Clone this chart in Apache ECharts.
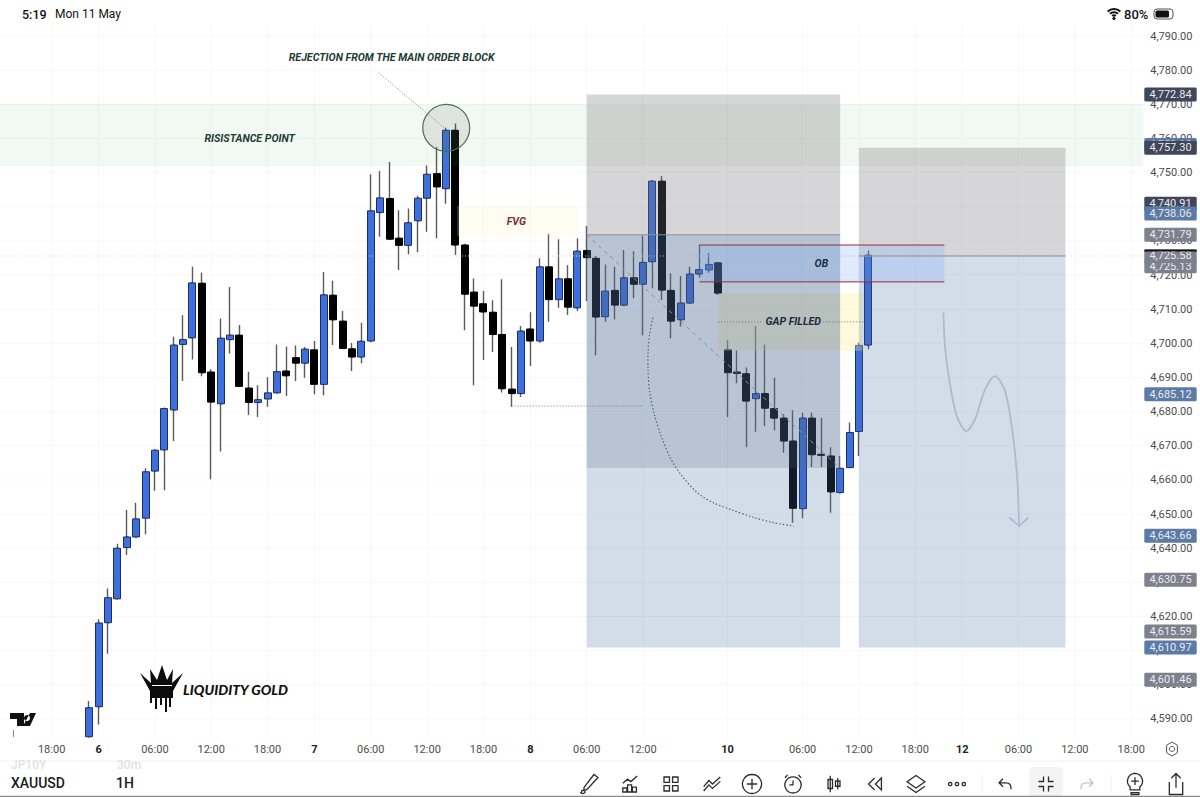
<!DOCTYPE html>
<html>
<head>
<meta charset="utf-8">
<title>XAUUSD 1H</title>
<script src="https://cdn.jsdelivr.net/npm/echarts@6/dist/echarts.min.js"></script>
<style>
  html, body { margin: 0; background: #fff; }
  #chart { width: 1200px; height: 797px; }
</style>
</head>
<body>
<div id="chart"></div>
<script>
// candles, bar 0 is the first visible candle (its foot is cut by the axis)
const opens = [4584.8, 4593.6, 4618.2, 4625.2, 4640.2, 4643.3, 4648.8, 4662.6, 4668.8, 4680.5, 4699.7, 4701.6, 4717.6, 4691.6, 4682.3, 4701.1, 4702.4, 4686.9, 4682.7, 4683.7, 4685.5, 4691.9, 4695.8, 4694.2, 4698.1, 4688, 4714.1, 4706.5, 4698.4, 4696, 4700.7, 4738.3, 4742.4, 4730.8, 4728.7, 4735.9, 4742.5, 4749.7, 4745.3, 4762.4, 4728.8, 4715, 4711.6, 4709.1, 4702.6, 4686.6, 4685.3, 4704.2, 4700.7, 4722.4, 4712.8, 4718.9, 4710.4, 4727.2, 4724.9, 4707.8, 4715.5, 4711.2, 4719.2, 4717.3, 4723.9, 4747.5, 4715.5, 4706.9, 4711.8, 4720.3, 4721.5, 4723.6, 4698.1, 4691.6, 4691.1, 4683.8, 4685.3, 4680.9, 4678.1, 4671.4, 4651.6, 4678.1, 4667.5, 4667, 4656.3, 4663.6, 4674.2, 4699.5];
const closes = [4593.3, 4618.1, 4625.5, 4640, 4643.3, 4648.6, 4662.4, 4668.7, 4680.9, 4699.5, 4701.1, 4717.7, 4691.4, 4682.8, 4701.5, 4702.4, 4687.4, 4682.7, 4683.5, 4685.5, 4691.7, 4690.5, 4694.2, 4698.3, 4688, 4714.2, 4706.9, 4698.5, 4696, 4700.6, 4738.8, 4742.6, 4730.5, 4728.7, 4735.3, 4742.5, 4749.5, 4745.8, 4762.4, 4728.8, 4714.4, 4710.9, 4709.2, 4702.6, 4686.7, 4685.3, 4703.6, 4700.7, 4722.4, 4712.8, 4718.9, 4710.6, 4727, 4725.1, 4707.7, 4715.3, 4711.2, 4719.2, 4717.3, 4723.7, 4747.5, 4715.6, 4706.5, 4711.8, 4720.3, 4721.6, 4723.1, 4714.7, 4691.4, 4691.2, 4683.1, 4685.3, 4681, 4678.1, 4671.4, 4651.7, 4678.1, 4667.4, 4667.2, 4656.5, 4663.4, 4673.9, 4699.4, 4725.8];
const lows = [4584.8, 4588.4, 4609.1, 4625.1, 4638, 4643.3, 4644.1, 4656.8, 4657, 4671.4, 4689, 4695.3, 4690.4, 4660.2, 4668.3, 4697, 4687.4, 4679, 4678.4, 4681.4, 4685.5, 4684.6, 4689, 4689.9, 4685.1, 4684.8, 4699.5, 4698.5, 4691.9, 4694.2, 4700.3, 4731.2, 4730.5, 4721.5, 4726.1, 4726.7, 4732.7, 4730.8, 4740.9, 4725.9, 4703.8, 4687.7, 4695.1, 4697.5, 4685.6, 4681.4, 4684.3, 4693.4, 4700.2, 4706.3, 4710.4, 4708.3, 4709.5, 4712.4, 4696.5, 4706.3, 4707, 4710.9, 4713.2, 4702.4, 4716.1, 4712.7, 4701.5, 4704.9, 4711.8, 4719.2, 4720.7, 4714.2, 4678.4, 4688.3, 4669.6, 4674.1, 4675.8, 4674.5, 4668, 4647.5, 4648.8, 4663.8, 4663.8, 4650.4, 4656, 4663.6, 4667, 4698.3];
const highs = [4595.3, 4619.2, 4628.2, 4641.3, 4651.3, 4653.3, 4663.4, 4669, 4681.2, 4701.9, 4708.2, 4722.4, 4720.7, 4692.4, 4707.3, 4716.5, 4705.4, 4691.7, 4687.7, 4690.1, 4699.7, 4699.1, 4699.4, 4698.9, 4700.7, 4720.9, 4718.3, 4709.5, 4700.1, 4706, 4749.5, 4750.5, 4753.1, 4739, 4739.5, 4743.2, 4752.1, 4757.5, 4763.1, 4764.4, 4729.2, 4719, 4715.3, 4712.6, 4718.8, 4698.9, 4705.1, 4709.1, 4724.9, 4732.1, 4730.5, 4722.9, 4730.8, 4734.4, 4725.6, 4723.1, 4722.4, 4727.3, 4727, 4731.6, 4747.8, 4749, 4720.5, 4719.7, 4722.4, 4728.8, 4726.4, 4723.7, 4701, 4698, 4692.9, 4705.1, 4699.7, 4689.9, 4679.3, 4680.4, 4679.7, 4679.7, 4678.2, 4669.6, 4667, 4676.8, 4700.2, 4727.2];

// time axis, the bar number where each label sits
const firstBar = -9;
const lastBar = 112;
const xTickBars = [-4, 1, 7, 13, 19, 24, 30, 36, 42, 47, 53, 59, 68, 76, 82, 88, 93, 99, 105, 111];
const xTickLabels = ['18:00', '6', '06:00', '12:00', '18:00', '7', '06:00', '12:00', '18:00', '8', '06:00', '12:00', '10', '06:00', '12:00', '18:00', '12', '06:00', '12:00', '18:00'];
const yTicks = [4590, 4600, 4610, 4620, 4630, 4640, 4650, 4660, 4670, 4680, 4690, 4700, 4710, 4720, 4730, 4740, 4750, 4760, 4770, 4780, 4790];

// price tags on the right scale, later ones cover earlier ones
const tagPrices = [4772.84, 4758.12, 4757.30, 4740.91, 4738.06, 4731.79, 4722.6, 4725.58, 4685.12, 4643.66, 4630.75, 4615.59, 4610.97, 4601.46];
const tagTexts = ['4,772.84', '4,758.12', '4,757.30', '4,740.91', '4,738.06', '4,731.79', '4,725.13', '4,725.58', '4,685.12', '4,643.66', '4,630.75', '4,615.59', '4,610.97', '4,601.46'];
const tagKinds = ['dark', 'blue', 'dark', 'dark', 'blue', 'gray', 'gray', 'gray', 'blue', 'blue', 'gray', 'gray', 'blue', 'gray'];

// drawings, all in [bar, price]
const stopLeft = 4772.84, entryLeft = 4731.79, midLeft = 4663.5;
const stopRight = 4757.30, entryRight = 4725.58, target = 4610.97;
const arcPoints = [[60.05, 4707.5], [59.7, 4702.6], [59.54, 4697.8], [59.54, 4691.9], [59.7, 4686], [60.2, 4679.2], [61, 4672.4], [61.9, 4666.5], [63, 4661.7], [64.76, 4656.3], [66.5, 4653.3], [68.3, 4651.4], [70.8, 4649], [72.9, 4647.5], [75.04, 4646.5]];
const swingPoints = [[91, 4709], [91.18, 4698.7], [91.7, 4688], [92.43, 4678.7], [93.42, 4674.3], [94.37, 4677.8], [95.44, 4686.5], [96.5, 4690.4], [97.57, 4686], [98.39, 4673.4], [98.88, 4659.7], [99.06, 4646.5]];
const swingHead = [[98.03, 4649], [99.06, 4646.5], [100.05, 4649]];

const TICK_COLOR = '#4d4d4d';
const INK = '#1d3b36';
const TAG_FILL = { dark: '#41465a', blue: '#5b7ba6', gray: '#7e808d' };

const categories = [];
for (let b = firstBar; b <= lastBar; b++) {
  const at = xTickBars.indexOf(b);
  categories.push(at === -1 ? '' : xTickLabels[at]);
}
const pad = new Array(-firstBar).fill('-');
const wickData = pad.concat(opens.map((o, i) => [o, closes[i], lows[i], highs[i]]));
const bodyData = pad.concat(opens.map((o, i) => [o, closes[i], Math.min(o, closes[i]), Math.max(o, closes[i])]));

const chart = echarts.init(document.getElementById('chart'), null, { renderer: 'svg' });

// one custom series per layer, draw() gets an item and returns graphics
function layer(name, z, items, draw) {
  return {
    type: 'custom', name, z, silent: true, xAxisIndex: 1, yAxisIndex: 0,
    data: items.map(() => [0, 0]),
    renderItem: (params, api) => draw(items[params.dataIndex], api, params)
  };
}
function box(api, from, to, top, bottom, fill) {
  const a = api.coord([from, top]);
  const b = api.coord([to, bottom]);
  return { type: 'rect', shape: { x: a[0], y: a[1], width: b[0] - a[0], height: b[1] - a[1] }, style: { fill } };
}
function stroke(api, points, color, width, dash, smooth) {
  return {
    type: 'polyline',
    shape: { points: points.map(p => api.coord(p)), smooth: smooth || 0 },
    style: { fill: null, stroke: color, lineWidth: width, lineDash: dash || null }
  };
}
function word(text, x, y, font, fill, align) {
  return {
    type: 'text',
    style: { text, x, y, font, fill, align: align || 'center', textAlign: align || 'center', verticalAlign: 'middle', textVerticalAlign: 'middle' }
  };
}
function dataWord(api, bar, price, text, font, fill) {
  const p = api.coord([bar, price]);
  return word(text, p[0], p[1], font, fill);
}
function glyph(pathData, cx, cy, w, h, style) {
  return { type: 'path', shape: { pathData, x: cx - w / 2, y: cy - h / 2, width: w, height: h, layout: 'center' }, style };
}

const labelFont = 'italic bold 10.6px Roboto';

// faint grid under the candles
const gridLayer = layer('grid', 1, [0], (_, api) => ({
  type: 'group',
  children: xTickBars.map(b => stroke(api, [[b, 4584.2], [b, 4793.8]], '#f8f8f8', 1))
    .concat(yTicks.map(v => stroke(api, [[firstBar - 0.5, v], [lastBar + 0.5, v]], '#f8f8f8', 1)))
}));

// zones and drawings sit on top of the candles, that is why the candles tint
const zoneLayer = layer('zones', 5, [0], (_, api) => ({
  type: 'group',
  children: [
    stroke(api, [[firstBar - 0.5, entryRight], [lastBar + 0.5, entryRight]], '#dcdcdc', 1, [1, 2]),
    box(api, firstBar - 0.5, 112.3, 4770.1, 4751.9, 'rgba(76,175,80,0.07)'),
    box(api, 39.2, 52, 4740.2, 4731.4, 'rgba(255,240,190,0.22)'),
    box(api, 67, 82.4, 4714.7, 4697.8, 'rgba(255,240,150,0.33)'),
    box(api, 53, 80, stopLeft, entryLeft, 'rgba(120,120,125,0.3)'),
    box(api, 53, 80, entryLeft, target, 'rgba(70,110,165,0.24)'),
    box(api, 53, 80, entryLeft, midLeft, 'rgba(80,100,130,0.2)'),
    box(api, 82, 104, stopRight, entryRight, 'rgba(120,120,125,0.3)'),
    box(api, 82, 104, entryRight, target, 'rgba(70,110,165,0.24)'),
    box(api, 65, 91.1, 4728.8, 4718, 'rgba(110,165,245,0.22)'),
    stroke(api, [[53, entryLeft], [80, entryLeft]], '#8c8f96', 1),
    stroke(api, [[82, entryRight], [104, entryRight]], '#8c8f96', 1),
    stroke(api, [[65, 4728.8], [91.1, 4728.8]], '#97283f', 1),
    stroke(api, [[65, 4718], [91.1, 4718]], '#97283f', 1),
    stroke(api, [[53, entryLeft], [80, midLeft]], '#8a8f99', 1, [4, 4]),
    stroke(api, [[67, 4706.3], [71.7, 4706.3]], '#6e7078', 1, [1, 2]),
    stroke(api, [[78.2, 4706.3], [82.7, 4706.3]], '#6e7078', 1, [1, 2]),
    stroke(api, [[45, 4681.65], [59, 4681.65]], '#8a6f75', 1, [1, 2]),
    stroke(api, [[30.85, 4779.2], [37.97, 4762.8]], '#8a6f75', 1, [1, 2]),
    stroke(api, arcPoints, '#4a6b70', 1.2, [1.5, 2], 0.3),
    stroke(api, swingPoints, '#a9bdcb', 1.8, null, 0.3),
    stroke(api, swingHead, '#a9bdcb', 1.8),
    (() => {
      const c = api.coord([38.04, 4763.1]);
      return {
        type: 'circle', shape: { cx: c[0], cy: c[1], r: 23.5 },
        style: { fill: 'rgba(90,100,110,0.13)', stroke: '#4f6f55', lineWidth: 1.2 }
      };
    })(),
    dataWord(api, 32.22, 4783.6, 'REJECTION FROM THE MAIN ORDER BLOCK', labelFont, INK),
    dataWord(api, 17.1, 4760.1, 'RISISTANCE POINT', labelFont, INK),
    dataWord(api, 45.5, 4735.8, 'FVG', labelFont, '#7a2a3a'),
    dataWord(api, 78, 4723.5, 'OB', labelFont, '#1d2b3d'),
    dataWord(api, 75, 4706.3, 'GAP FILLED', labelFont, '#1d2b3d')
  ]
}));

// price tags cover the axis labels
const tagIndexes = tagPrices.map((_, i) => i);
const tagLayer = layer('tags', 6, tagIndexes, (i, api) => {
  const y = api.coord([0, tagPrices[i]])[1];
  return {
    type: 'group',
    children: [
      { type: 'rect', shape: { x: 1144.3, y: y - 7, width: 52.4, height: 14, r: 1.5 }, style: { fill: TAG_FILL[tagKinds[i]] } },
      word(tagTexts[i], 1170.5, y, '11px Roboto', '#e8eaf0')
    ]
  };
});

const stripLayer = layer('lastPrice', 6, [0], (_, api) => {
  const y = api.coord([0, 4727.4])[1];
  return { type: 'rect', shape: { x: 1144.3, y, width: 52.4, height: 1.6 }, style: { fill: '#111' } };
});

// the tablet status bar, toolbar and logos around the chart
const line = { fill: null, stroke: '#2b2b2b', lineWidth: 1.3 };
const toolIcons = [
  [589, 18, 19, 'M3 21c2 2 6 1 5-1s-5-1-3 1 M7 16L17 3l4 3L10 18l-3 1z'],
  [630, 16, 16, 'M2 22v-5h5v5z M8 22V13h5v9z M14 22v-6h5v6z M2 11l6-5 4 3 8-7'],
  [671, 14, 14, 'M3 3h7v7H3z M14 3h7v7h-7z M3 14h7v7H3z M14 14h7v7h-7z'],
  [712, 19, 14, 'M2 16l6-7 4 4 9-8 M2 21l6-7 4 4 9-8'],
  [752, 19, 19, 'M12 1a11 11 0 1 0 .01 0z M12 6v12 M6 12h12'],
  [793, 18, 18, 'M12 4a9 9 0 1 0 .01 0z M12 8v5h-4 M3 5l3-3 M21 5l-3-3'],
  [834, 12, 17, 'M7 1v22 M4 6h6v12H4z M17 4v15 M14 8h6v7h-6z'],
  [875, 13, 12, 'M12 5l-7 7 7 7 M20 5l-7 7 7 7V5z'],
  [916, 19, 17, 'M12 2l10 7-10 7L2 9z M2 14l10 7 10-7'],
  [1135, 15, 22, 'M12 1a8 8 0 0 1 5 14v3H7v-3A8 8 0 0 1 12 1z M12 5v8 M8 9h8 M8 21h8v2H8z'],
  [1176, 16, 21, 'M5 10v13h14V10 M12 16V1 M7 6l5-5 5 5']
];
const chromeLayer = layer('chrome', 7, [0], () => ({
  type: 'group',
  children: [
    word('5:19', 22, 14, '500 12.5px Roboto', '#111', 'left'),
    word('Mon 11 May', 55, 14, '12px Roboto', '#111', 'left'),
    word('80%', 1124, 14, '500 13px Roboto', '#111', 'left'),
    glyph('M1 8a16 16 0 0 1 22 0 M5 12a10 10 0 0 1 14 0 M9 16a4 4 0 0 1 6 0 M12 19l1 1-1 1-1-1z', 1114, 14, 14, 10, { fill: null, stroke: '#111', lineWidth: 2 }),
    { type: 'rect', shape: { x: 1154, y: 9, width: 19, height: 10, r: 3 }, style: { fill: null, stroke: '#555', lineWidth: 1 } },
    { type: 'rect', shape: { x: 1155.5, y: 10.5, width: 13.5, height: 7, r: 1.5 }, style: { fill: '#111' } },
    glyph('M6 1l5 3v7l-5 3-5-3V4z M6 5a2.4 2.4 0 1 0 .01 0z', 1172, 749, 12, 14, { fill: null, stroke: '#555', lineWidth: 1 }),
    { type: 'rect', shape: { x: 0, y: 761, width: 1200, height: 36 }, style: { fill: '#fff' } },
    { type: 'line', shape: { x1: 0, y1: 761, x2: 1200, y2: 761 }, style: { stroke: '#f1f1f1', lineWidth: 1 } },
    word('JP10Y', 11, 765, '500 12px Roboto', '#e2e2e2', 'left'),
    word('30m', 117, 765, '500 12px Roboto', '#e2e2e2', 'left'),
    word('XAUUSD', 11, 783, '500 14px Roboto', '#1a1a1a', 'left'),
    word('1H', 116, 783, '500 14px Roboto', '#1a1a1a', 'left'),
    { type: 'rect', shape: { x: 1029, y: 767, width: 34, height: 30, r: 5 }, style: { fill: '#f4f4f4' } },
    { type: 'line', shape: { x1: 0, y1: 796.4, x2: 1200, y2: 796.4 }, style: { stroke: '#8a8a8a', lineWidth: 1.2 } },
    { type: 'line', shape: { x1: 982, y1: 775, x2: 982, y2: 792 }, style: { stroke: '#f0f0f0', lineWidth: 1 } },
    { type: 'line', shape: { x1: 1111, y1: 775, x2: 1111, y2: 792 }, style: { stroke: '#f0f0f0', lineWidth: 1 } }
  ].concat(toolIcons.map(t => glyph(t[3], t[0], 784, t[1], t[2], line)))
    .concat([
      glyph('M2 4a2 2 0 1 0 .01 0z M10 4a2 2 0 1 0 .01 0z M18 4a2 2 0 1 0 .01 0z', 957, 784, 17, 5, line),
      glyph('M7 1L2 6l5 5 M2 6h9c4 0 6 3 6 7v1', 1005, 784, 12, 12, line),
      glyph('M9 3v6H3 M15 3v6h6 M9 21v-6H3 M15 21v-6h6', 1046, 784, 15, 15, line),
      glyph('M11 1l5 5-5 5 M16 6H7c-4 0-6 3-6 7v1', 1087, 784, 12, 12, { fill: null, stroke: '#c4c4c4', lineWidth: 1.3 }),
      glyph('M0 0H14V13H7V6H0Z M17 2a3 3 0 1 0 .01 0Z M26 0L20 13H13L20 0Z', 23, 719.5, 26, 13, { fill: '#111' }),
      { type: 'line', shape: { x1: 13.5, y1: 730, x2: 13.5, y2: 737 }, style: { stroke: '#888', lineWidth: 1 } },
      glyph('M0 8L11 18L10 4L17 15L22 0L27 15L33 4L32 18L43 8L33 26V33H31V42H29V33H27V47H25V33H22V40H20V33H17V44H15V33H12V38H10V26Z', 161.5, 688.5, 43, 47, { fill: '#0c0c0c' }),
      { type: 'line', shape: { x1: 152, y1: 685.5, x2: 172, y2: 685.5 }, style: { stroke: '#fff', lineWidth: 1 } },
      word('LIQUIDITY GOLD', 235.5, 689, 'italic 900 14px Lato', '#111')
    ])
}));

chart.setOption({
  animation: false,
  backgroundColor: '#fff',
  grid: { left: -0.95, top: 23, width: 1146.19, height: 716, containLabel: false },
  xAxis: [
    {
      type: 'category',
      data: categories,
      boundaryGap: true,
      axisLine: { show: false },
      axisTick: { show: false },
      splitLine: { show: false },
      axisLabel: {
        interval: 0,
        margin: 5,
        fontFamily: 'Roboto',
        fontSize: 11,
        color: TICK_COLOR,
        hideOverlap: false,
        formatter: v => (/^\d+$/.test(v) ? '{day|' + v + '}' : v),
        rich: { day: { fontFamily: 'Roboto', fontSize: 11, fontWeight: 'bold', color: '#222' } }
      }
    },
    { type: 'value', show: false, min: firstBar - 0.5, max: lastBar + 0.5, splitLine: { show: false } }
  ],
  yAxis: {
    type: 'value',
    position: 'right',
    min: 4584.14,
    max: 4793.81,
    axisLine: { show: false },
    axisTick: { show: false },
    splitLine: { show: false },
    axisLabel: {
      customValues: yTicks,
      margin: 5,
      fontFamily: 'Roboto',
      fontSize: 11,
      color: TICK_COLOR,
      formatter: v => v.toLocaleString('en-US', { minimumFractionDigits: 2, maximumFractionDigits: 2 })
    }
  },
  series: [
    gridLayer,
    {
      type: 'candlestick', name: 'wicks', z: 3, silent: true, barWidth: 1.4,
      data: wickData,
      itemStyle: { color: '#5a5a5a', color0: '#5a5a5a', borderColor: '#5a5a5a', borderColor0: '#5a5a5a', borderWidth: 1.4 }
    },
    {
      type: 'candlestick', name: 'XAUUSD', z: 4, silent: true, barWidth: 7.5,
      data: bodyData,
      itemStyle: { color: '#3f6fdc', color0: '#000', borderColor: '#1b2d66', borderColor0: '#000', borderWidth: 1 }
    },
    zoneLayer,
    tagLayer,
    stripLayer,
    chromeLayer
  ]
});
</script>
</body>
</html>
